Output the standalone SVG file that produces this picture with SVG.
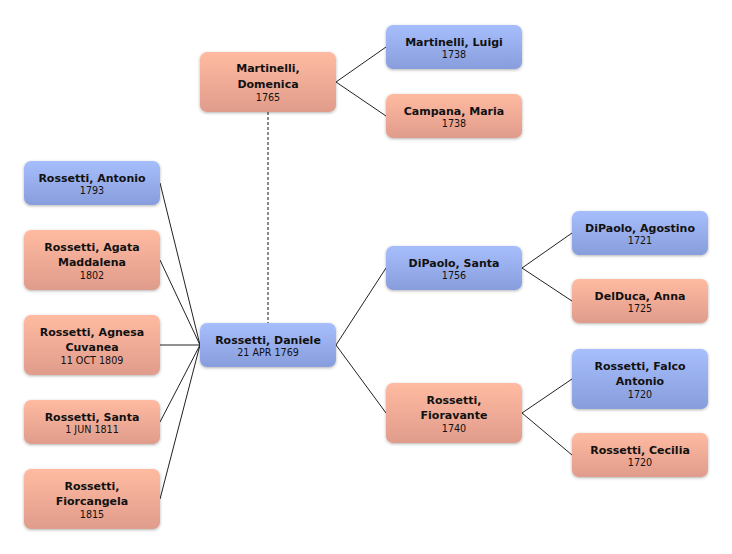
<svg xmlns="http://www.w3.org/2000/svg" width="732" height="554" viewBox="0 0 732 554">
<defs>
<linearGradient id="gb" x1="0" y1="0" x2="0" y2="1">
<stop offset="0" stop-color="#a7befd"/>
<stop offset="1" stop-color="#889ddb"/>
</linearGradient>
<linearGradient id="gp" x1="0" y1="0" x2="0" y2="1">
<stop offset="0" stop-color="#ffbaa1"/>
<stop offset="1" stop-color="#e09c8b"/>
</linearGradient>
<filter id="sh" x="-10%" y="-20%" width="120%" height="150%">
<feDropShadow dx="0" dy="1" stdDeviation="1.6" flood-color="#000" flood-opacity="0.3"/>
</filter>
</defs>
<style>
.m rect{fill:url(#gb);filter:url(#sh)}
.f rect{fill:url(#gp);filter:url(#sh)}
text{font-family:"DejaVu Sans","Liberation Sans",sans-serif;fill:#111;text-anchor:middle}
.n{font-weight:bold;font-size:11px}
.d{font-size:9.6px}
.c line{stroke:#222;stroke-width:1}
.c .dash{stroke:#8a8a8a;stroke-width:2;stroke-dasharray:3 2}
</style>
<rect width="732" height="554" fill="#fff"/>
<g class="c" id="connectors">
<line class="dash" x1="268" y1="112" x2="268" y2="323"/>
<line x1="336" y1="82" x2="386" y2="47"/>
<line x1="336" y1="82" x2="386" y2="116"/>
<line x1="200" y1="345" x2="160" y2="183"/>
<line x1="200" y1="345" x2="160" y2="260"/>
<line x1="200" y1="345" x2="160" y2="345"/>
<line x1="200" y1="345" x2="160" y2="422"/>
<line x1="200" y1="345" x2="160" y2="499"/>
<line x1="336" y1="345" x2="386" y2="268"/>
<line x1="336" y1="345" x2="386" y2="413"/>
<line x1="522" y1="268" x2="572" y2="233"/>
<line x1="522" y1="268" x2="572" y2="301"/>
<line x1="522" y1="413" x2="572" y2="379"/>
<line x1="522" y1="413" x2="572" y2="455"/>
</g>
<g id="domenica" class="f"><rect x="200" y="52" width="136" height="60" rx="7"/><text class="n" x="268" y="72">Martinelli,</text><text class="n" x="268" y="87.5">Domenica</text><text class="d" x="268" y="100.5">1765</text></g>
<g id="luigi" class="m"><rect x="386" y="25" width="136" height="44" rx="7"/><text class="n" x="454" y="45.5">Martinelli, Luigi</text><text class="d" x="454" y="57.5">1738</text></g>
<g id="maria" class="f"><rect x="386" y="94" width="136" height="44" rx="7"/><text class="n" x="454" y="114.5">Campana, Maria</text><text class="d" x="454" y="126.5">1738</text></g>
<g id="antonio" class="m"><rect x="24" y="161" width="136" height="44" rx="7"/><text class="n" x="92" y="181.5">Rossetti, Antonio</text><text class="d" x="92" y="193.5">1793</text></g>
<g id="agata" class="f"><rect x="24" y="230" width="136" height="60" rx="7"/><text class="n" x="92" y="250.5">Rossetti, Agata</text><text class="n" x="92" y="266">Maddalena</text><text class="d" x="92" y="279">1802</text></g>
<g id="agnesa" class="f"><rect x="24" y="315" width="136" height="60" rx="7"/><text class="n" x="92" y="335.5">Rossetti, Agnesa</text><text class="n" x="92" y="351">Cuvanea</text><text class="d" x="92" y="364">11 OCT 1809</text></g>
<g id="santa-r" class="f"><rect x="24" y="400" width="136" height="44" rx="7"/><text class="n" x="92" y="420.5">Rossetti, Santa</text><text class="d" x="92" y="432.5">1 JUN 1811</text></g>
<g id="fiorcangela" class="f"><rect x="24" y="469" width="136" height="60" rx="7"/><text class="n" x="92" y="489.5">Rossetti,</text><text class="n" x="92" y="505">Fiorcangela</text><text class="d" x="92" y="518">1815</text></g>
<g id="daniele" class="m"><rect x="200" y="323" width="136" height="44" rx="7"/><text class="n" x="268" y="343.5">Rossetti, Daniele</text><text class="d" x="268" y="355.5">21 APR 1769</text></g>
<g id="santa-d" class="m"><rect x="386" y="246" width="136" height="44" rx="7"/><text class="n" x="454" y="266.5">DiPaolo, Santa</text><text class="d" x="454" y="278.5">1756</text></g>
<g id="fioravante" class="f"><rect x="386" y="383" width="136" height="60" rx="7"/><text class="n" x="454" y="403.5">Rossetti,</text><text class="n" x="454" y="419">Fioravante</text><text class="d" x="454" y="432">1740</text></g>
<g id="agostino" class="m"><rect x="572" y="211" width="136" height="44" rx="7"/><text class="n" x="640" y="231.5">DiPaolo, Agostino</text><text class="d" x="640" y="243.5">1721</text></g>
<g id="anna" class="f"><rect x="572" y="279" width="136" height="44" rx="7"/><text class="n" x="640" y="299.5">DelDuca, Anna</text><text class="d" x="640" y="311.5">1725</text></g>
<g id="falco" class="m"><rect x="572" y="349" width="136" height="60" rx="7"/><text class="n" x="640" y="369.5">Rossetti, Falco</text><text class="n" x="640" y="385">Antonio</text><text class="d" x="640" y="398">1720</text></g>
<g id="cecilia" class="f"><rect x="572" y="433" width="136" height="44" rx="7"/><text class="n" x="640" y="453.5">Rossetti, Cecilia</text><text class="d" x="640" y="465.5">1720</text></g>
</svg>
